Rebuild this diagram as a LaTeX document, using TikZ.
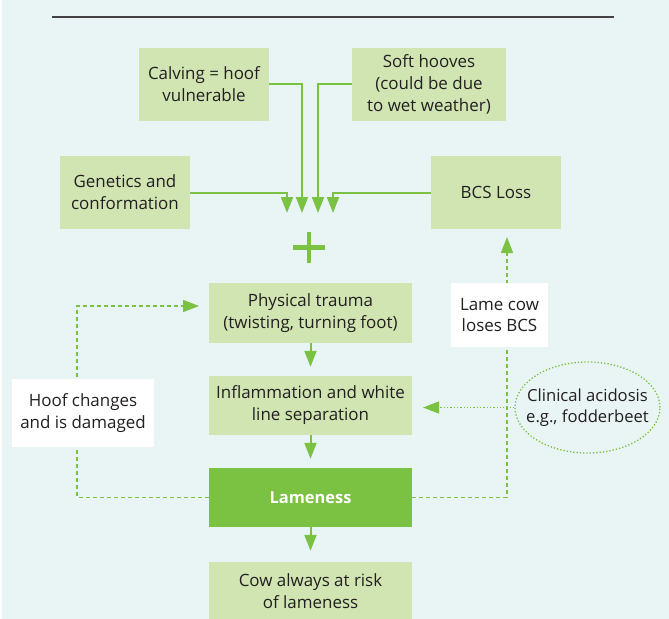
\documentclass[tikz,border=0pt]{standalone}
\usepackage{fontspec}
\setmainfont{Open Sans}
\usetikzlibrary{arrows.meta}
\usetikzlibrary{shapes.geometric}
\definecolor{bgcyan}{HTML}{E9F5F5}
\definecolor{boxgreen}{HTML}{D1E5B3}
\definecolor{leafgreen}{HTML}{7BC142}
\definecolor{inkgray}{HTML}{231F20}

\begin{document}
\begin{tikzpicture}[x=1bp, y=-1bp, line join=miter, >={Triangle[width=12bp,length=16bp]},
	cause/.style={fill=boxgreen, inner sep=0pt, align=center, text=inkgray, font=\fontsize{17}{22}\selectfont},
	note/.style={cause, fill=white},
	main/.style={cause, fill=leafgreen, text=white, font=\fontsize{16.5}{22}\selectfont\bfseries},
	feed/.style={draw=leafgreen, line width=2bp, ->},
	loop/.style={draw=leafgreen, line width=1.5bp, dash pattern=on 4bp off 3bp, ->},
	hint/.style={draw=leafgreen, line width=1.3bp, dash pattern=on 1.3bp off 2bp, ->}]
		% frame
		\useasboundingbox (0,0) rectangle (669,619);
		\fill [bgcyan] (2,0) rectangle (669,619);
		\draw [inkgray!85, line width=2bp] (52,17) -- (614,17);
		% causes
		\node (calving) [cause, minimum width=130bp, minimum height=73bp] at (204,84.5) {Calving = hoof\\vulnerable};
		\node (soft) [cause, minimum width=154bp, minimum height=73bp] at (429,84.5) {Soft hooves\\(could be due\\to wet weather)};
		\node (genetics) [cause, minimum width=130bp, minimum height=73bp] at (125,192.5) {Genetics and\\conformation};
		\node (bcs) [cause, minimum width=130bp, minimum height=73bp] at (496,192.5) {BCS Loss};
		% plus
		\node (plus) [minimum size=31bp, inner sep=0pt] at (309,247.5) {};
		\draw [leafgreen, line width=4.5bp] (plus.north) -- (plus.south);
		\draw [leafgreen, line width=4.5bp] (plus.west) -- (plus.east);
		% chain
		\node (trauma) [cause, minimum width=203bp, minimum height=60bp] at (310.5,313) {Physical trauma\\(twisting, turning foot)};
		\node (inflam) [cause, minimum width=203bp, minimum height=59bp] at (310.5,405.5) {Inflammation and white\\line separation};
		\node (lameness) [main, minimum width=203bp, minimum height=59bp] at (310.5,497.5) {Lameness};
		\node (risk) [cause, minimum width=203bp, minimum height=58bp] at (310.5,591) {Cow always at risk\\of lameness};
		% ellipse
		\node (acid) [ellipse, draw=leafgreen, line width=1.3bp, dash pattern=on 1.3bp off 2bp, minimum width=145bp, minimum height=91bp, inner xsep=-13bp, inner ysep=0pt, align=center, text=inkgray, font=\fontsize{16.7}{21}\selectfont] at (587.5,407.5) {Clinical acidosis\\e.g., fodderbeet};
		% ends of connectors
		\coordinate (inA) at (287,213);
		\coordinate (inB) at (302,213);
		\coordinate (inC) at (318,213);
		\coordinate (inD) at (333,213);
		\coordinate (bcsin) at (507,237);
		\coordinate (loopcorner) at (77,306);
		\coordinate (traumain) at (199,306);
		\coordinate (inflamin) at (423,407.5);
		% into the plus
		\draw [feed] (genetics.east) -| (inA);
		\draw [feed] (calving.east) -| (inB);
		\draw [feed] (soft.west) -| (inC);
		\draw [feed] (bcs.west) -| (inD);
		% down the chain
		\draw [feed, shorten >=9bp] (trauma) -- (inflam);
		\draw [feed, shorten >=9bp] (inflam) -- (lameness);
		\draw [feed, shorten >=11bp] (lameness) -- (risk);
		% feedback
		\draw [loop] (lameness.west) -| (loopcorner) -- (traumain);
		\draw [loop] (lameness.east) -| (bcsin);
		\draw [hint] (acid.west) -- (inflamin);
		% side notes, over the lines
		\node (losebcs) [note, minimum width=97bp, minimum height=64bp] at (499.5,315) {Lame cow\\loses BCS};
		\node (hoof) [note, minimum width=142bp, minimum height=68bp] at (83,413) {Hoof changes\\and is damaged};
\end{tikzpicture}
\end{document}
